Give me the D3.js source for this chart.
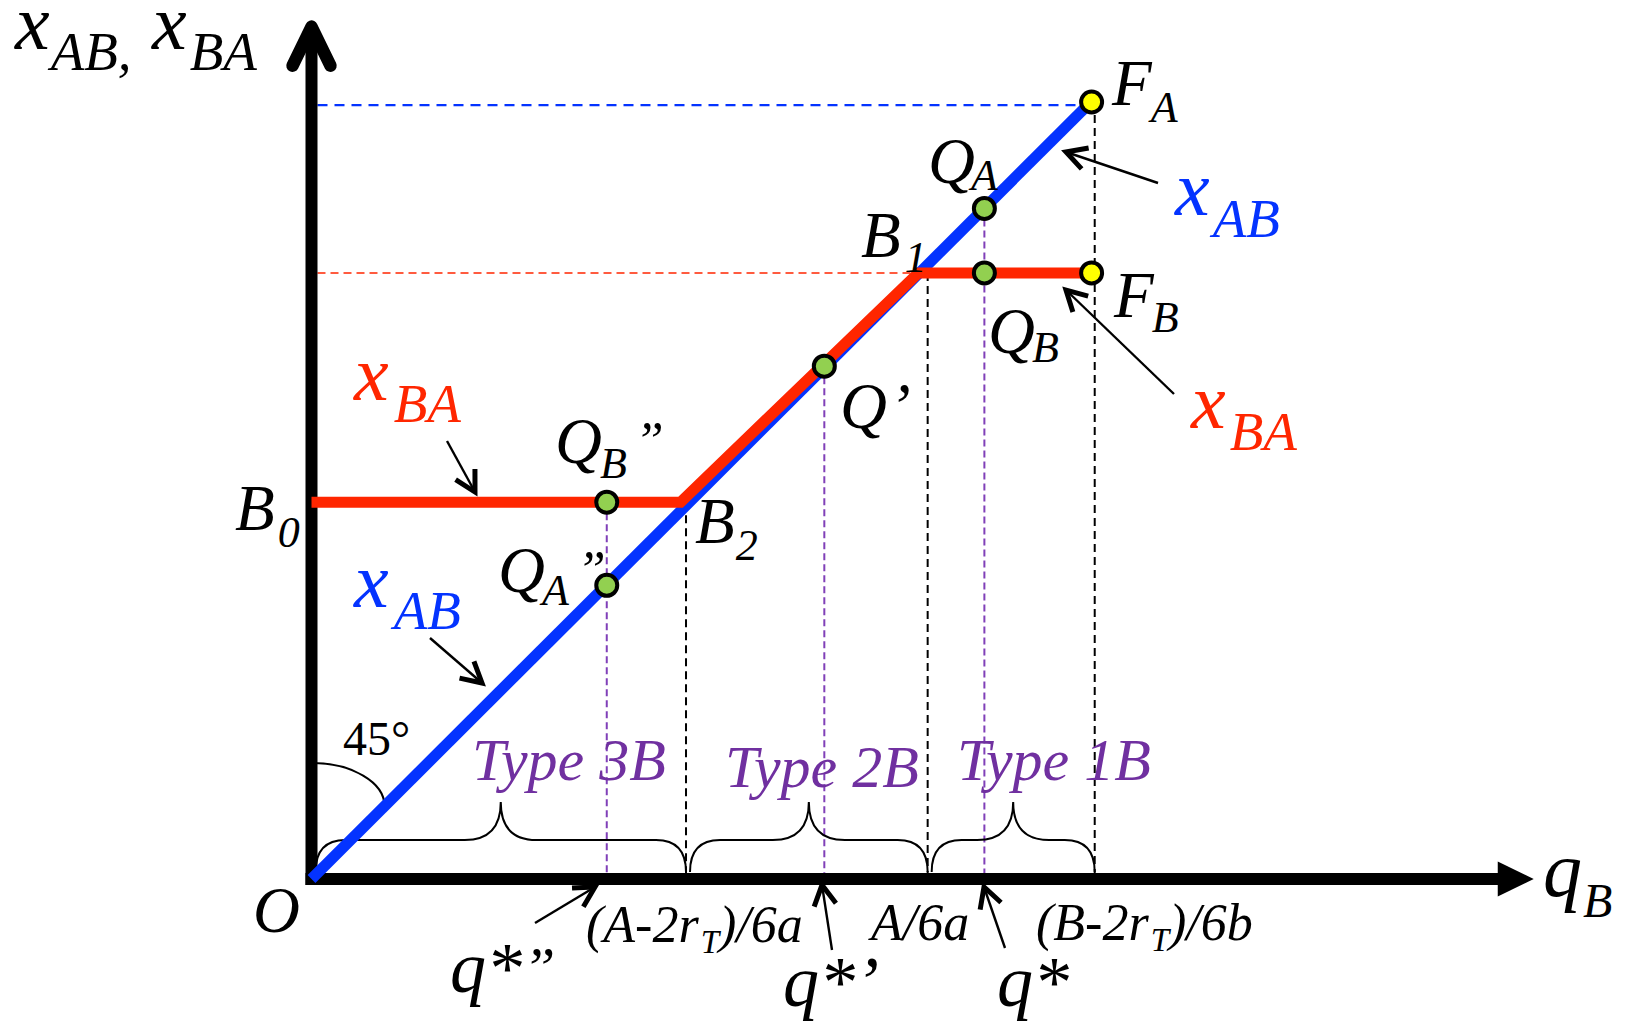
<!DOCTYPE html>
<html><head><meta charset="utf-8">
<script src="https://cdn.jsdelivr.net/npm/d3@7"></script>
<style>
html,body{margin:0;padding:0;background:#fff;}
svg{display:block;}
</style>
</head><body>
<svg id="c" width="1627" height="1026"></svg>
<script>
// ---------------- data (schematic values, x = qB, y = xAB / xBA) ----------------
const xABLine = [[0, 0], [100.3, 100]];
const xBALine = [[0, 48.5], [47.5, 48.5], [78.1, 78], [100.4, 78]];
const greenPoints = [[38, 48.5], [38, 37.8], [66, 66], [86.6, 86.3], [86.6, 78]];
const yellowPoints = [[100.4, 100], [100.4, 78]];
const blackDrops = [[48.2, 48.5], [79.3, 78], [100.8, 100]];
const purpleDrops = [[38, 48.5], [66, 66], [86.6, 86.3]];
const blueGuide = [100.4, 99.6];
const redGuide = [78.1, 78];
const typeSpans = [[0, 48.2], [48.2, 79.3], [79.3, 100.8]];
const typeNames = ["Type 3B", "Type 2B", "Type 1B"];
const boundaryLabels = [["(A-2r", "T", ")/6a"], ["A/6a"], ["(B-2r", "T", ")/6b"]];
const axisMax = [157.3, 110.6];

// ---------------- style ----------------
const BLUE = "#0433FF", RED = "#FF2600", PURPLE = "#7030A0", GREEN = "#92D050", YELLOW = "#FFFF00";
const FONT = "'Liberation Serif', 'Times New Roman', Tinos, serif";

const svg = d3.select("#c");
const x = d3.scaleLinear().domain([0, 100]).range([311.5, 1088.5]);
const y = d3.scaleLinear().domain([0, 100]).range([879, 102]);

// dashed guides
const g0 = svg.append("g");
g0.append("line").attr("x1", x(0) + 6).attr("x2", x(blueGuide[0])).attr("y1", y(blueGuide[1])).attr("y2", y(blueGuide[1]))
  .attr("stroke", BLUE).attr("stroke-width", 2.2).attr("stroke-dasharray", "10,7");
g0.append("line").attr("x1", x(0) + 6).attr("x2", x(redGuide[0])).attr("y1", y(redGuide[1])).attr("y2", y(redGuide[1]))
  .attr("stroke", RED).attr("stroke-width", 1.6).attr("stroke-dasharray", "8,5");
g0.selectAll(".bd").data(blackDrops).join("line")
  .attr("x1", d => x(d[0])).attr("x2", d => x(d[0])).attr("y1", d => y(d[1])).attr("y2", y(0))
  .attr("stroke", "#000").attr("stroke-width", 2).attr("stroke-dasharray", "8,5");
g0.selectAll(".pd").data(purpleDrops).join("line")
  .attr("x1", d => x(d[0])).attr("x2", d => x(d[0])).attr("y1", d => y(d[1])).attr("y2", y(0))
  .attr("stroke", "#8040B8").attr("stroke-width", 2).attr("stroke-dasharray", "7,4");

// braces
function brace(x1, x2) {
  const yE = y(0) - 7, yF = y(0) - 39, yT = y(0) - 77, r = 30, r2 = 36, m = (x1 + x2) / 2;
  return `M${x1},${yE} Q${x1},${yF} ${x1 + r},${yF} L${m - r2},${yF} Q${m},${yF} ${m},${yT} Q${m},${yF} ${m + r2},${yF} L${x2 - r},${yF} Q${x2},${yF} ${x2},${yE}`;
}
svg.append("g").selectAll("path").data(typeSpans).join("path")
  .attr("d", d => brace(x(d[0]) + 4, x(d[1])))
  .attr("fill", "none").attr("stroke", "#000").attr("stroke-width", 2);

// 45 degree arc
svg.append("path").attr("d", `M${x(0)},${y(0) - 116} A73 43 0 0 1 ${x(0) + 73},${y(0) - 73}`)
  .attr("fill", "none").attr("stroke", "#000").attr("stroke-width", 2.2);
svg.append("text").attr("x", 343).attr("y", 755).attr("font-size", 48)
  .attr("font-family", FONT).attr("font-style", "normal").text("45°");

// axes
const ax = svg.append("g");
ax.append("line").attr("x1", x(0) - 6).attr("x2", x(axisMax[0]) - 34).attr("y1", y(0)).attr("y2", y(0))
  .attr("stroke", "#000").attr("stroke-width", 12);
ax.append("path").attr("d", `M${x(axisMax[0]) - 36},${y(0) - 17.5} L${x(axisMax[0])},${y(0)} L${x(axisMax[0]) - 36},${y(0) + 17.5} Z`).attr("fill", "#000");
ax.append("line").attr("x1", x(0)).attr("x2", x(0)).attr("y1", y(0) + 6).attr("y2", y(axisMax[1]) + 8)
  .attr("stroke", "#000").attr("stroke-width", 12);
ax.append("path").attr("d", `M${x(0) - 19},${y(axisMax[1]) + 46} L${x(0)},${y(axisMax[1]) + 7} L${x(0) + 19},${y(axisMax[1]) + 46}`)
  .attr("fill", "none").attr("stroke", "#000").attr("stroke-width", 12.5).attr("stroke-linecap", "round").attr("stroke-linejoin", "round");

// lines
const line = d3.line().x(d => x(d[0])).y(d => y(d[1]));
svg.append("path").attr("d", line(xABLine)).attr("fill", "none").attr("stroke", BLUE).attr("stroke-width", 11);
svg.append("path").attr("d", line(xBALine)).attr("fill", "none").attr("stroke", RED).attr("stroke-width", 11);

// points
svg.append("g").selectAll("circle").data(greenPoints).join("circle")
  .attr("cx", d => x(d[0])).attr("cy", d => y(d[1])).attr("r", 10.5)
  .attr("fill", GREEN).attr("stroke", "#000").attr("stroke-width", 4);
svg.append("g").selectAll("circle").data(yellowPoints).join("circle")
  .attr("cx", d => x(d[0])).attr("cy", d => y(d[1])).attr("r", 10.5)
  .attr("fill", YELLOW).attr("stroke", "#000").attr("stroke-width", 4);

// labels: parts = [text, size, dy, dx]
function lab(px, py, parts, color) {
  const t = svg.append("text").attr("x", px).attr("y", py).attr("fill", color || "#000")
    .attr("font-family", FONT).attr("font-style", "italic");
  parts.forEach(p => {
    const s = t.append("tspan").attr("font-size", p[1]).text(p[0]);
    if (p[2]) s.attr("dy", p[2]);
    if (p[3]) s.attr("dx", p[3]);
  });
  return t;
}
const M = 65, S = 44;
// axis titles
lab(15, 49, [["x", 78], ["AB,", 55, 21, 1]]);
lab(152, 49, [["x", 78], ["BA", 55, 21, 3]]);
lab(1543, 896, [["q", 78], ["B", 48, 21, 1]]);
lab(253, 932, [["O", M]]);
// points
lab(1112, 105, [["F", M], ["A", S, 17, -1]]);
lab(928, 183, [["Q", M], ["A", S, 7, -4]]);
lab(861, 257, [["B", M], ["1", S, 15, 4]]);
lab(1114, 317, [["F", M], ["B", S, 15, -2]]);
lab(988, 353, [["Q", M], ["B", S, 9, -3]]);
lab(840, 428, [["Q", M], ["\u2019", M, 0, 2]]);
lab(555, 463, [["Q", M], ["B", S, 15, -2], ["\u201D", 52, -20, 8]]);
lab(498, 592, [["Q", M], ["A", S, 13, -3], ["\u201D", 52, -18, 8]]);
lab(235, 530, [["B", M], ["0", S, 17, 3]]);
lab(695, 543, [["B", M], ["2", S, 17, 1]]);
// curve labels
lab(1175, 215, [["x", 78], ["AB", 55, 22, 3]], BLUE);
lab(1191, 428, [["x", 78], ["BA", 55, 22, 4]], RED);
lab(354, 400, [["x", 78], ["BA", 55, 22, 5]], RED);
lab(354, 607, [["x", 78], ["AB", 55, 22, 5]], BLUE);
// types
const typePos = [[472, 780], [725, 787], [957, 780]];
typeNames.forEach((n, i) => lab(typePos[i][0], typePos[i][1], [[n, 60]], PURPLE));
// boundary labels
const bPos = [[586, 942], [871, 940], [1036, 940]];
boundaryLabels.forEach((b, i) => {
  const parts = b.length === 3 ? [[b[0], 52], [b[1], 33, 11, 2], [b[2], 52, -11]] : [[b[0], 52]];
  lab(bPos[i][0], bPos[i][1], parts);
});
// q* labels
lab(450, 992, [["q*", 72], ["\u201D", 58, -5, 1]]);
lab(783, 1006, [["q*\u2019", 72]]);
lab(997, 1006, [["q*", 72]]);

// annotation arrows: [tail, head]
const arrows = [
  [[1158, 183], [1066, 152]],
  [[1174, 394], [1066, 290]],
  [[447, 441], [475, 492]],
  [[430, 638], [482, 683]],
  [[535, 923], [595, 887]],
  [[832, 950], [822, 885]],
  [[1005, 948], [984, 887]]
];
const ag = svg.append("g");
arrows.forEach(([t, h]) => {
  ag.append("line").attr("x1", t[0]).attr("y1", t[1]).attr("x2", h[0]).attr("y2", h[1])
    .attr("stroke", "#000").attr("stroke-width", 2.4);
  const dx = t[0] - h[0], dy = t[1] - h[1], L = Math.hypot(dx, dy), ux = dx / L, uy = dy / L;
  const len = 23, a = 0.5;
  const p1 = [h[0] + len * (ux * Math.cos(a) - uy * Math.sin(a)), h[1] + len * (ux * Math.sin(a) + uy * Math.cos(a))];
  const p2 = [h[0] + len * (ux * Math.cos(-a) - uy * Math.sin(-a)), h[1] + len * (ux * Math.sin(-a) + uy * Math.cos(-a))];
  ag.append("path").attr("d", `M${p1[0]},${p1[1]} L${h[0]},${h[1]} L${p2[0]},${p2[1]}`)
    .attr("fill", "none").attr("stroke", "#000").attr("stroke-width", 5).attr("stroke-linejoin", "miter");
});
</script>
</body></html>
